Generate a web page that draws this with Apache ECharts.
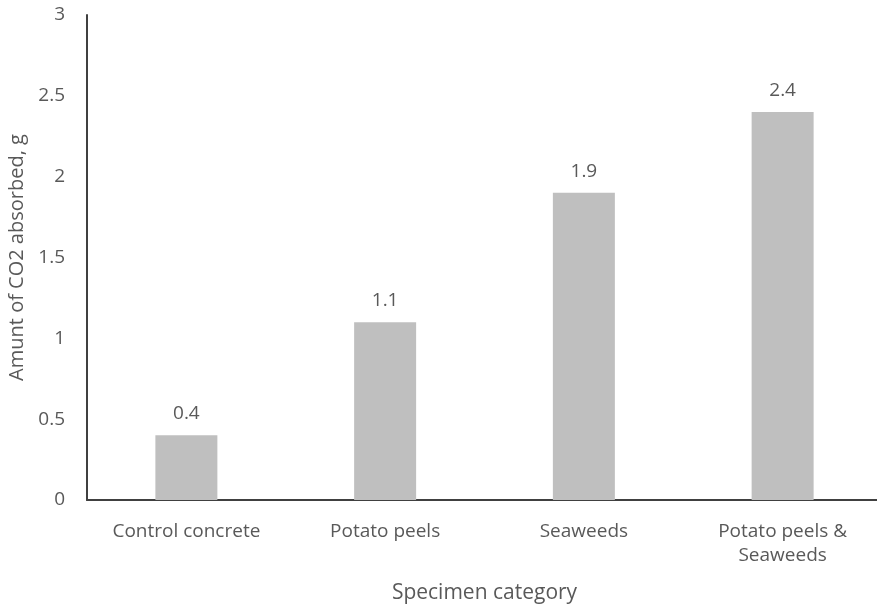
<!DOCTYPE html>
<html>
<head>
<meta charset="utf-8">
<script src="https://cdn.jsdelivr.net/npm/echarts@6/dist/echarts.min.js"></script>
<style>
  html, body { margin: 0; padding: 0; background: #fff; overflow: hidden; }
  #chart { width: 877px; height: 606px; }
</style>
</head>
<body>
<div id="chart"></div>
<script>
const categories = ['Control concrete', 'Potato peels', 'Seaweeds', 'Potato peels &\nSeaweeds'];
const co2Absorbed = [0.4, 1.1, 1.9, 2.4];
const yTicks = [0, 0.5, 1, 1.5, 2, 2.5, 3];

const font = '"Open Sans", "Noto Sans", sans-serif';
const textColor = '#595959';

const chart = echarts.init(document.getElementById('chart'), null, { renderer: 'canvas' });
chart.setOption({
  animation: false,
  backgroundColor: '#ffffff',
  grid: {
    left: 87, top: 15, width: 795, height: 485,
    containLabel: false,
    outerBoundsMode: 'none'
  },
  xAxis: {
    type: 'category',
    data: categories,
    name: 'Specimen category',
    nameLocation: 'middle',
    nameGap: 83,
    nameTextStyle: { color: textColor, fontFamily: font, fontSize: 21 },
    axisLine: { lineStyle: { color: '#404040', width: 2 } },
    axisTick: { show: false },
    axisLabel: { color: textColor, fontFamily: font, fontSize: 19, margin: 20, lineHeight: 24, interval: 0 }
  },
  yAxis: {
    type: 'value',
    min: yTicks[0],
    max: yTicks[yTicks.length - 1],
    interval: 0.5,
    name: 'Amunt of CO2 absorbed, g',
    nameLocation: 'middle',
    nameGap: 59,
    nameTextStyle: { color: textColor, fontFamily: font, fontSize: 20 },
    axisLine: { show: true, lineStyle: { color: '#404040', width: 2 } },
    axisTick: { show: false },
    splitLine: { show: false },
    axisLabel: { color: textColor, fontFamily: font, fontSize: 19, margin: 22 }
  },
  series: [{
    type: 'bar',
    data: co2Absorbed,
    barWidth: 62,
    itemStyle: { color: '#bfbfbf' },
    label: {
      show: true,
      position: 'top',
      distance: 12,
      color: textColor,
      fontFamily: font,
      fontSize: 19
    }
  }]
});
</script>
</body>
</html>
